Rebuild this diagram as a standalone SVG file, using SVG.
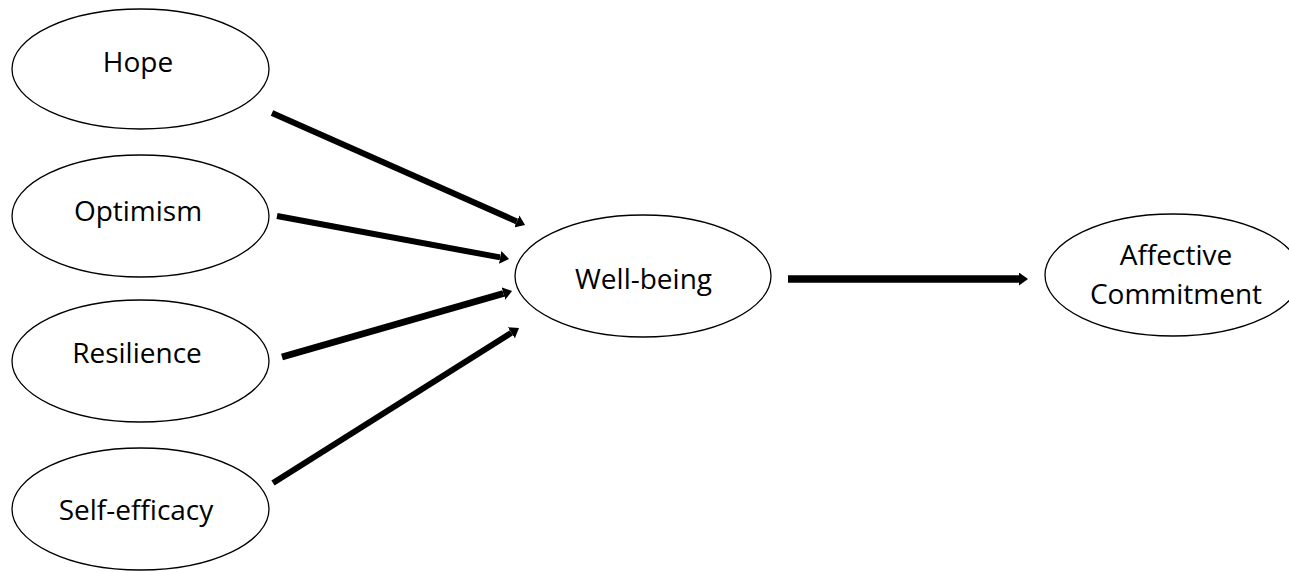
<svg xmlns="http://www.w3.org/2000/svg" width="1289" height="572" viewBox="0 0 1289 572">
  <style>
    .node ellipse { fill: #ffffff; stroke: #000000; stroke-width: 1.3; }
    .node text { font-family: "Open Sans", "Noto Sans", "Liberation Sans", sans-serif; font-size: 28px; fill: #000000; text-anchor: middle; }
    .edge { stroke: #000000; fill: none; marker-end: url(#arrow); }
  </style>
  <defs>
    <marker id="arrow" viewBox="0 0 9 13" markerUnits="userSpaceOnUse" markerWidth="9" markerHeight="13" refX="0" refY="6.5" orient="auto">
      <path d="M0,0 L9,6.5 L0,13 z" fill="#000000"/>
    </marker>
  </defs>
  <rect width="1289" height="572" fill="#ffffff"/>
  <g id="connectors">
    <line class="edge" x1="272" y1="113" x2="516.8" y2="221.4" stroke-width="6"/>
    <line class="edge" x1="277" y1="216" x2="500.2" y2="257.4" stroke-width="6"/>
    <line class="edge" x1="282" y1="357" x2="503.4" y2="293.5" stroke-width="7"/>
    <line class="edge" x1="273" y1="483" x2="511.4" y2="332.8" stroke-width="6"/>
    <line class="edge" x1="788" y1="279" x2="1019" y2="279" stroke-width="7.5"/>
  </g>
  <g id="hope" class="node">
    <ellipse cx="140.5" cy="69" rx="128.5" ry="60"/>
    <text x="138" y="72">Hope</text>
  </g>
  <g id="optimism" class="node">
    <ellipse cx="140.5" cy="216" rx="128.5" ry="61"/>
    <text x="138" y="221">Optimism</text>
  </g>
  <g id="resilience" class="node">
    <ellipse cx="140.5" cy="361" rx="128.5" ry="61"/>
    <text x="137" y="363">Resilience</text>
  </g>
  <g id="self-efficacy" class="node">
    <ellipse cx="140.5" cy="509" rx="128.5" ry="61"/>
    <text x="136" y="520">Self-efficacy</text>
  </g>
  <g id="well-being" class="node">
    <ellipse cx="643" cy="276" rx="128" ry="61"/>
    <text x="643.5" y="289">Well-being</text>
  </g>
  <g id="affective-commitment" class="node">
    <ellipse cx="1173" cy="275" rx="128" ry="61"/>
    <text x="1176" y="265">Affective</text>
    <text x="1176" y="304">Commitment</text>
  </g>
</svg>
